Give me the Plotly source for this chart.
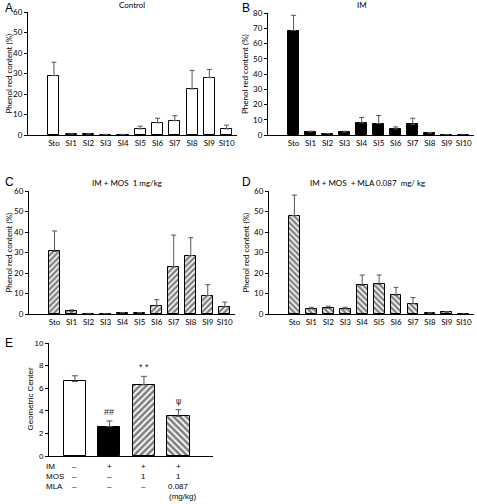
import plotly.graph_objects as go

W, H = 477, 504
segments = ["Sto", "SI1", "SI2", "SI3", "SI4", "SI5", "SI6", "SI7", "SI8", "SI9", "SI10"]

control_mean = [29, 0.5, 0.5, 0.2, 0.2, 3, 6, 7, 22.5, 28, 3]
control_err = [6.5, 0.3, 0.3, 0.1, 0.1, 1.3, 2.2, 2.4, 9, 4, 1.8]
im_mean = [68.5, 2, 0.8, 2, 8, 7.5, 4, 7, 1.2, 0.2, 0]
im_err = [10, 0.5, 0.2, 0.5, 3.5, 5.3, 1.3, 4, 0.5, 0, 0]
mos_mean = [30.5, 1.3, 0.2, 0.1, 0.5, 0.5, 4, 23, 28.5, 9, 3.5]
mos_err = [10, 0.7, 0.1, 0, 0.2, 0.2, 3, 15.5, 8.7, 5.3, 2.3]
mla_mean = [48, 2.5, 2.8, 2.5, 14, 14.5, 9.2, 5, 0.4, 0.8, 0]
mla_err = [10, 0.8, 1, 0.8, 5, 4.5, 3.8, 3, 0.2, 0.4, 0]

gc_groups = ["Control", "IM", "IM+MOS", "IM+MOS+MLA"]
gc_mean = [6.6, 2.6, 6.3, 3.5]
gc_err = [0.5, 0.5, 0.75, 0.6]
gc_marks = ["", "##", "* *", "ψ"]
table_rows = ["IM", "MOS", "MLA"]
table_vals = [["–", "+", "+", "+"], ["–", "–", "1", "1"], ["–", "–", "–", "0.087"]]

FONT = "Lato"
fig = go.Figure()

def px(x):
    return x / W

def py(y):
    return 1 - y / H

panels = [
    ("A", control_mean, control_err, "white", "", (28, 237), (135, 12), 60, "Control", 132),
    ("B", im_mean, im_err, "black", "", (268, 474), (135, 13), 80, "IM", 362),
    ("C", mos_mean, mos_err, "white", "/", (29, 235), (314, 191), 60, "IM + MOS  1 mg/kg", 127),
    ("D", mla_mean, mla_err, "white", "\\", (269, 474), (314, 191), 60, "IM + MOS  + MLA 0.087  mg/ kg", 367),
]

annotations = []
for i, (letter, mean, err, fill, pat, xd, yd, ymax, title, tx) in enumerate(panels):
    n = i + 1
    xa = "x" if n == 1 else f"x{n}"
    ya = "y" if n == 1 else f"y{n}"
    fig.add_trace(go.Bar(
        x=list(range(len(segments))), y=mean,
        xaxis=xa, yaxis=ya, width=0.64,
        marker=dict(color=fill, line=dict(color="black", width=1),
                    pattern=dict(shape=pat, fgcolor="black", bgcolor="white", size=4, solidity=0.6) if pat else None),
        error_y=dict(type="data", array=err, arrayminus=[0] * len(err), symmetric=False,
                     color="#555555", thickness=1, width=2.5),
        showlegend=False,
    ))
    xk = "xaxis" if n == 1 else f"xaxis{n}"
    yk = "yaxis" if n == 1 else f"yaxis{n}"
    fig.layout[xk] = dict(domain=[px(xd[0]), px(xd[1])], anchor=ya, range=[-1.5, 10.6],
                          tickmode="array", tickvals=list(range(len(segments))), ticktext=segments,
                          showline=True, linecolor="black", linewidth=1, ticks="", automargin=False,
                          ticklabeloverflow="allow",
                          tickfont=dict(family=FONT, size=8, color="black"), showgrid=False, zeroline=False)
    fig.layout[yk] = dict(domain=[py(yd[0]), py(yd[1])], anchor=xa, range=[0, ymax], automargin=False,
                          dtick=10, showline=True, linecolor="black", linewidth=1, ticks="outside",
                          ticklen=3, tickcolor="black",
                          tickfont=dict(family=FONT, size=8, color="black"), showgrid=False, zeroline=False)
    lx = 3 if letter in "AC" else 240
    ly = 8 if letter in "AB" else 182
    annotations.append(dict(text=letter, x=px(lx), y=py(ly), xref="paper", yref="paper",
                            xanchor="left", yanchor="middle", showarrow=False,
                            font=dict(family="Liberation Sans", size=12, color="black")))
    annotations.append(dict(text=title, x=px(tx), y=py(5 if letter in "AB" else 183), xref="paper", yref="paper",
                            xanchor="center", yanchor="middle", showarrow=False,
                            font=dict(family=FONT, size=8, color="black")))
    ytx = 8 if letter in "AC" else 245
    ycen = (yd[0] + yd[1]) / 2
    annotations.append(dict(text="Phenol red content (%)", x=px(ytx), y=py(ycen), xref="paper", yref="paper",
                            textangle=-90, xanchor="center", yanchor="middle", showarrow=False,
                            font=dict(family=FONT, size=8, color="black")))

fills = ["white", "black", "white", "white"]
pats = ["", "", "/", "\\"]
for j in range(4):
    fig.add_trace(go.Bar(
        x=[j], y=[gc_mean[j]], xaxis="x5", yaxis="y5", width=0.64,
        marker=dict(color=fills[j], line=dict(color="black", width=1),
                    pattern=dict(shape=pats[j], fgcolor="black", bgcolor="white", size=4.5, solidity=0.6) if pats[j] else None),
        error_y=dict(type="data", array=[gc_err[j]], arrayminus=[0], symmetric=False,
                     color="#555555", thickness=1, width=3),
        showlegend=False,
    ))
fig.layout["xaxis5"] = dict(domain=[px(49), px(213)], anchor="y5", range=[-0.75, 4.0], automargin=False,
                            showticklabels=False, showline=True, linecolor="black", linewidth=1,
                            ticks="", showgrid=False, zeroline=False)
fig.layout["yaxis5"] = dict(domain=[py(456), py(343)], anchor="x5", range=[0, 10], dtick=2, automargin=False,
                            showline=True, linecolor="black", linewidth=1, ticks="outside", ticklen=3,
                            tickcolor="black", tickfont=dict(family="Liberation Sans", size=8, color="black"),
                            showgrid=False, zeroline=False)
annotations.append(dict(text="E", x=px(3), y=py(343), xref="paper", yref="paper", xanchor="left",
                        yanchor="middle", showarrow=False, font=dict(family="Liberation Sans", size=12, color="black")))
annotations.append(dict(text="Geometric Center", x=px(30), y=py(399.5), xref="paper", yref="paper",
                        textangle=-90, xanchor="center", yanchor="middle", showarrow=False,
                        font=dict(family="Liberation Sans", size=8, color="black")))
for j, m in enumerate(gc_marks):
    if m:
        annotations.append(dict(text=m, x=j, y=gc_mean[j] + gc_err[j], xref="x5", yref="y5",
                                xanchor="center", yanchor="bottom", yshift=2, showarrow=False,
                                font=dict(family="DejaVu Sans" if m == "ψ" else "Liberation Sans",
                                          size=9 if m != "ψ" else 8, color="#222222")))
row_y = [466, 476, 486]
for r, lab in enumerate(table_rows):
    annotations.append(dict(text=lab, x=px(44), y=py(row_y[r]), xref="paper", yref="paper",
                            xanchor="left", yanchor="middle", showarrow=False,
                            font=dict(family="Liberation Sans", size=8, color="black")))
    for j in range(4):
        annotations.append(dict(text=table_vals[r][j], x=j, y=py(row_y[r]), xref="x5", yref="paper",
                                xanchor="center", yanchor="middle", showarrow=False,
                                font=dict(family="Liberation Sans", size=8, color="black")))
annotations.append(dict(text="(mg/kg)", x=3, y=py(496), xref="x5", yref="paper", xanchor="center",
                        yanchor="middle", xshift=4, showarrow=False,
                        font=dict(family="Liberation Sans", size=8, color="black")))

fig.update_layout(width=W, height=H, margin=dict(l=0, r=0, t=0, b=0), paper_bgcolor="white",
                  plot_bgcolor="white", annotations=annotations, bargap=0)
fig.write_html("out.html", config={"displayModeBar": False},
               post_script="document.body.style.margin='0';document.body.style.overflow='hidden';")
